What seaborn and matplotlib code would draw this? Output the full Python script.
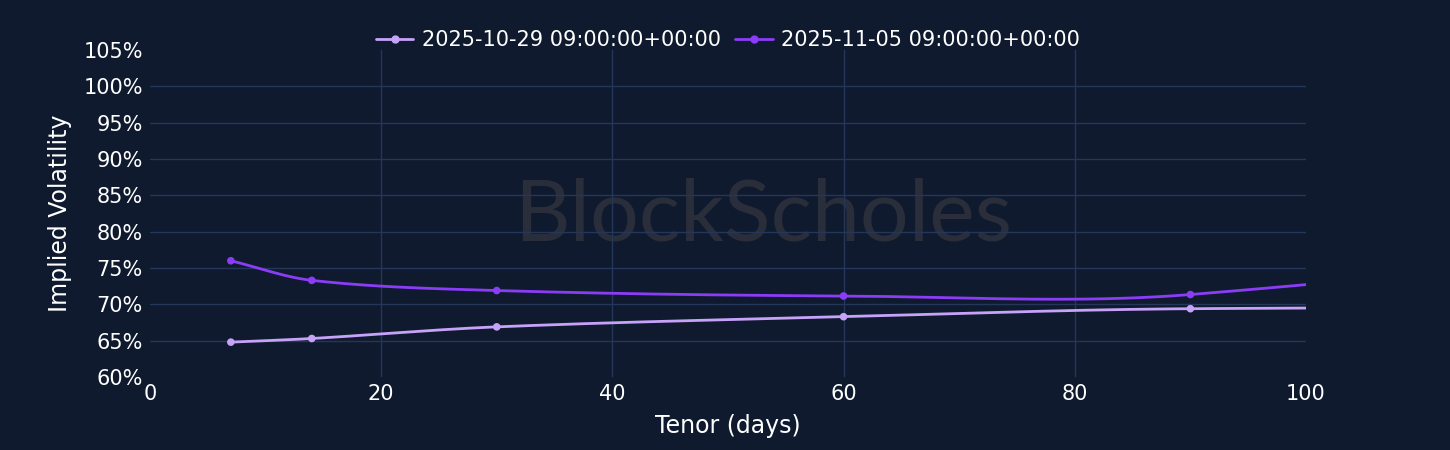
import matplotlib
matplotlib.use("Agg")
import matplotlib.pyplot as plt
import numpy as np
import pandas as pd
import seaborn as sns
from matplotlib.ticker import FuncFormatter

# tenor points (days); 180d point lies beyond the visible x range
tenors = [7, 14, 30, 60, 90, 180]
iv_oct29 = [64.8, 65.3, 66.9, 68.3, 69.4, 69.6]
iv_nov05 = [76.0, 73.3, 71.9, 71.15, 71.35, 86.5]
labels = ["2025-10-29 09:00:00+00:00", "2025-11-05 09:00:00+00:00"]
colors = ["#c7a2f9", "#8b3cf7"]
x_ticks = [0, 20, 40, 60, 80, 100]
y_ticks = [60, 65, 70, 75, 80, 85, 90, 95, 100, 105]

BG = "#0f1a2e"
GRID = "#24365a"


def smooth(x, y, n=40):
    # cardinal (catmull-rom style) spline just for rendering, like plotly's line_shape='spline'
    x = np.asarray(x, float)
    y = np.asarray(y, float)
    m = np.zeros_like(y)
    m[0] = (y[1] - y[0]) / (x[1] - x[0])
    m[-1] = (y[-1] - y[-2]) / (x[-1] - x[-2])
    for i in range(1, len(x) - 1):
        m[i] = (y[i + 1] - y[i - 1]) / (x[i + 1] - x[i - 1])
    xs, ys = [], []
    for i in range(len(x) - 1):
        h = x[i + 1] - x[i]
        t = np.linspace(0, 1, n, endpoint=False)
        h00 = 2 * t**3 - 3 * t**2 + 1
        h10 = t**3 - 2 * t**2 + t
        h01 = -2 * t**3 + 3 * t**2
        h11 = t**3 - t**2
        xs.append(x[i] + t * h)
        ys.append(h00 * y[i] + h10 * h * m[i] + h01 * y[i + 1] + h11 * h * m[i + 1])
    xs.append([x[-1]])
    ys.append([y[-1]])
    return np.concatenate(xs), np.concatenate(ys)


sns.set_style("dark")
plt.rcParams["font.family"] = ["DejaVu Sans"]

fig = plt.figure(figsize=(14.5, 4.5), dpi=100, facecolor=BG)
ax = fig.add_axes([0.1034, 0.1622, 0.7973, 0.7267])
ax.set_facecolor(BG)

# watermark
ax.text(0.53, 0.49, "BlockScholes", transform=ax.transAxes, ha="center", va="center",
        fontsize=62, color="#2a2e3b", family="Lato", zorder=0)

for i, (lab, vals) in enumerate(zip(labels, [iv_oct29, iv_nov05])):
    xs, ys = smooth(tenors, vals)
    curve = pd.DataFrame({"tenor": xs, "iv": ys})
    pts = pd.DataFrame({"tenor": tenors, "iv": vals})
    sns.lineplot(data=curve, x="tenor", y="iv", ax=ax, color=colors[i], lw=2, zorder=3)
    sns.scatterplot(data=pts, x="tenor", y="iv", ax=ax, color=colors[i], s=30,
                    edgecolor="none", zorder=4)
    ax.plot([], [], color=colors[i], lw=2, marker="o", ms=5, label=lab)

ax.set_xlim(0, 100)
ax.set_ylim(60, 105)
ax.set_xticks(x_ticks)
ax.set_yticks(y_ticks)
ax.yaxis.set_major_formatter(FuncFormatter(lambda v, p: f"{v:.0f}%"))
ax.grid(True, color=GRID, lw=1, zorder=1)
ax.set_axisbelow(True)
for gl in (ax.xaxis.get_gridlines()[0], ax.xaxis.get_gridlines()[-1],
           ax.yaxis.get_gridlines()[0], ax.yaxis.get_gridlines()[-1]):
    gl.set_visible(False)
for s in ax.spines.values():
    s.set_visible(False)
ax.tick_params(colors="white", labelsize=15, length=0, pad=5)
ax.set_xlabel("Tenor (days)", color="white", fontsize=17, labelpad=7)
ax.set_ylabel("Implied Volatility", color="white", fontsize=17, labelpad=8)

leg = ax.legend(loc="lower center", bbox_to_anchor=(0.5, 0.975), ncol=2, frameon=False,
                fontsize=15, labelcolor="white", handlelength=1.8, columnspacing=0.7,
                handletextpad=0.4, borderaxespad=0.0)

fig.savefig("out.png", dpi=100, facecolor=BG)
